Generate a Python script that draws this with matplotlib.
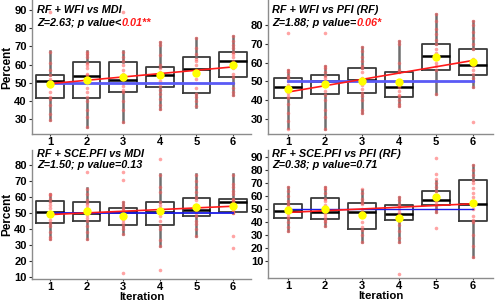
import matplotlib
matplotlib.use("Agg")
import matplotlib.pyplot as plt
import numpy as np

plt.rcParams['font.family'] = ['Liberation Sans', 'DejaVu Sans']

iterations = [1, 2, 3, 4, 5, 6]

# panel titles (first line, stats line, highlighted part)
titles = ["RF + WFI vs MDI", "RF + WFI vs PFI (RF)", "RF + SCE.PFI vs MDI", "RF + SCE.PFI vs PFI (RF)"]
stat_text = ["Z=2.63; p value<", "Z=1.88; p value=", "Z=1.50; p value=0.13", "Z=0.38; p value=0.71"]
stat_red = ["0.01**", "0.06*", "", ""]

# raw points per iteration
points_wfi_mdi = [
    [88.7, 67, 61, 57, 54, 52, 51, 50, 50, 48, 45, 42, 41, 38, 33, 29.6],
    [67, 66, 64, 61, 60, 58, 55, 54, 52, 50, 47, 45, 42, 40, 35, 31, 25.5],
    [88.7, 67, 64, 62, 60, 57, 55, 53, 52, 50, 48, 46, 45, 40, 35, 28.5],
    [72.4, 71, 65, 60, 58, 56, 55, 54, 53, 51, 48, 46, 44, 41, 38, 35.5],
    [74.5, 69, 66, 63, 62, 60, 57, 55, 52, 47, 44, 42, 40, 37],
    [75.5, 73, 71, 69, 67, 66, 64, 62, 60, 58, 55, 53, 50, 47, 45, 43],
]
points_wfi_pfi = [
    [75.6, 56, 55, 53, 52, 50, 48, 47, 46, 44, 42, 41, 38, 33, 29, 25],
    [75.6, 58, 57, 55, 53, 52, 50, 50, 48, 45, 43, 40, 35, 31, 25],
    [68, 66, 63, 61, 58, 57, 55, 52, 50, 48, 46, 44, 42, 40, 35, 33],
    [71.6, 70, 60, 56, 55, 50, 48, 47, 45, 43, 42, 40, 38, 37],
    [85.6, 82, 78, 75, 72, 70, 67, 65, 63, 62, 60, 58, 56, 50, 43.5],
    [82, 80, 76, 73, 70, 67, 62, 60, 58, 56, 54, 52, 50, 47, 28.6],
]
points_sce_mdi = [
    [62, 61, 59, 57, 55, 53, 51, 50, 48, 46, 44, 42, 38, 35, 33.7],
    [75.5, 65, 62, 58, 56, 55, 53, 51, 50, 49, 47, 45, 42, 38, 33.7],
    [75.5, 70.7, 57, 55, 53, 52, 50, 48, 46, 44, 42, 40, 37, 12.7],
    [83.7, 74, 66, 63, 57, 55, 53, 51, 50, 48, 45, 42, 40, 33, 29.6, 14.6],
    [74, 70, 66, 63, 60, 58, 55, 53, 52, 50, 48, 45, 43, 40, 35.8],
    [74, 68, 66, 64, 62, 59, 58, 57, 56, 54, 52, 51, 50, 35.8, 28],
]
points_sce_pfi = [
    [67, 64, 60, 56, 54, 52, 50, 48, 47, 45, 43, 40, 36, 33.4],
    [67, 65, 62, 58, 56, 53, 51, 50, 48, 46, 44, 42, 40, 37.2],
    [65, 62, 58, 55, 54, 50, 48, 47, 45, 40, 36, 34, 30, 25],
    [59, 57, 54, 52, 50, 48, 46, 45, 43, 41, 38, 33, 28, 25, 0.7],
    [88.7, 76.5, 73, 70, 67, 64, 61, 59, 57, 55, 53, 50, 47.6, 35.4],
    [83.7, 80, 76, 72, 70, 66, 62, 59, 56, 53, 50, 45, 42, 40, 30, 22, 13.1],
]
all_points = [points_wfi_mdi, points_wfi_pfi, points_sce_mdi, points_sce_pfi]

# box summaries
q1 = [[41.8, 41.8, 45.1, 47.6, 44.2, 53.3],
      [41.4, 43.2, 43.7, 41.9, 56.3, 53.5],
      [43.6, 45.4, 42.6, 42.6, 48.5, 50.6],
      [43.0, 42.3, 34.7, 41.3, 53.2, 40.5]]
med = [[50.9, 53.6, 51.5, 54.2, 57.6, 62.0],
       [46.8, 50.0, 50.7, 47.2, 63.3, 58.8],
       [50.6, 49.8, 50.6, 51.0, 51.8, 56.7],
       [48.6, 47.6, 47.4, 46.3, 57.0, 53.7]]
q3 = [[54.2, 61.3, 61.3, 58.7, 64.0, 66.7],
      [51.8, 53.2, 57.0, 54.9, 70.0, 67.2],
      [57.4, 56.7, 53.3, 57.0, 59.4, 59.0],
      [54.0, 58.3, 54.5, 53.2, 64.1, 72.2]]
whis_lo = [[29.6, 25.5, 28.5, 35.5, 36.9, 43.1],
           [25.1, 25.0, 33.2, 37.0, 43.5, 47.0],
           [33.7, 33.7, 36.8, 29.6, 35.8, 50.0],
           [33.4, 37.2, 25.0, 25.0, 47.6, 13.1]]
whis_hi = [[67.3, 67.3, 67.3, 72.4, 74.5, 75.5],
           [56.3, 58.0, 68.0, 71.6, 85.6, 82.1],
           [61.9, 65.6, 57.0, 74.4, 74.4, 74.4],
           [66.6, 66.6, 64.6, 59.0, 71.0, 83.7]]
means = [[49.5, 51.5, 53.1, 54.0, 55.1, 60.0],
         [45.8, 48.4, 50.2, 49.5, 63.0, 60.2],
         [49.5, 51.2, 48.5, 51.2, 53.9, 54.3],
         [49.4, 50.2, 45.6, 43.0, 59.5, 54.3]]
# fitted trend at iteration 1 and 6
trend_ends = [[49.5, 58.7], [44.4, 61.1], [49.1, 54.3], [47.4, 54.0]]
chance = 50

ylims = [(21.8, 95.5), (22.1, 93.2), (9.0, 89.3), (-2.6, 95.0)]
yticks = [[30, 40, 50, 60, 70, 80, 90], [30, 40, 50, 60, 70, 80],
          [10, 20, 30, 40, 50, 60, 70, 80], [10, 20, 30, 40, 50, 60, 70, 80, 90]]

# axes positions in pixels: left, top, right, bottom
boxes_px = [(31.7, 0, 251.3, 134), (268, 0, 493, 134),
            (31.7, 150, 251.3, 279), (268, 150, 493, 278)]
blue_styles = [dict(color='#5a5af5', lw=2.0), dict(color='#5a5af5', lw=2.0),
               dict(color='#1a1ae6', lw=1.3), dict(color='#1a1ae6', lw=1.0)]

W, H = 500, 305
fig = plt.figure(figsize=(W / 100, H / 100), dpi=100)

for i in range(4):
    l, t, r, b = boxes_px[i]
    ax = fig.add_axes([l / W, 1 - b / H, (r - l) / W, (b - t) / H])
    stats = []
    for j in range(6):
        stats.append(dict(q1=q1[i][j], med=med[i][j], q3=q3[i][j],
                          whislo=whis_lo[i][j], whishi=whis_hi[i][j], fliers=[]))
    ax.bxp(stats, positions=iterations, widths=0.75, showcaps=False,
           boxprops=dict(color='#3a3a3a', lw=1.3),
           whiskerprops=dict(color='#6e6e6e', lw=1.8),
           medianprops=dict(color='black', lw=1.8), zorder=2)
    for j, pts in enumerate(all_points[i]):
        ax.plot([iterations[j]] * len(pts), pts, 'o', color='#ff5a5a', alpha=0.55,
                markersize=2.6, markeredgewidth=0, zorder=3)
    ax.plot([1, 6], [chance, chance], zorder=4, **blue_styles[i])
    ax.plot([1, 6], trend_ends[i], color='#ff1a1a', lw=1.2, zorder=5)
    ax.plot(iterations, means[i], 'o', color='#ffff00', markersize=6,
            markeredgewidth=0, zorder=6)

    ax.set_xlim(0.5 if i % 2 == 0 else 0.45, 6.5 if i % 2 == 0 else 6.55)
    ax.set_ylim(ylims[i])
    ax.set_xticks(iterations)
    ax.set_yticks(yticks[i])
    ax.tick_params(labelsize=8, length=2, width=0.8, color='#333333', pad=1.5)
    ax.tick_params(axis='x', length=1.5, pad=0.5)
    for lab in ax.get_xticklabels() + ax.get_yticklabels():
        lab.set_fontweight('bold')
    for s in ['top', 'right']:
        ax.spines[s].set_visible(False)
    for s in ['left', 'bottom']:
        ax.spines[s].set_color('#8c8c8c')
        ax.spines[s].set_linewidth(1.0)
    if i % 2 == 0:
        ax.set_ylabel('Percent', fontsize=8.5, fontweight='bold', labelpad=1)
    if i >= 2:
        ax.set_xlabel('Iteration', fontsize=8.2, fontweight='bold', labelpad=0.3)

    h = b - t
    y1 = 1 - (10 if i < 2 else 4) / h
    y2 = 1 - (23 if i < 2 else 15) / h
    x0 = (5.5 if i % 2 == 0 else 4.5) / (r - l)
    ax.text(x0, y1, titles[i], transform=ax.transAxes, fontsize=7.8,
            fontweight='bold', style='italic', va='center', ha='left', zorder=7)
    tx = ax.text(x0, y2, stat_text[i], transform=ax.transAxes, fontsize=7.8,
                 fontweight='bold', style='italic', va='center', ha='left', zorder=7)
    if stat_red[i]:
        ax.annotate(stat_red[i], xy=(1, 0.5), xycoords=tx, va='center', ha='left',
                    fontsize=7.8, fontweight='bold', style='italic', color='#ff1a1a')

fig.savefig('out.png', dpi=100)
